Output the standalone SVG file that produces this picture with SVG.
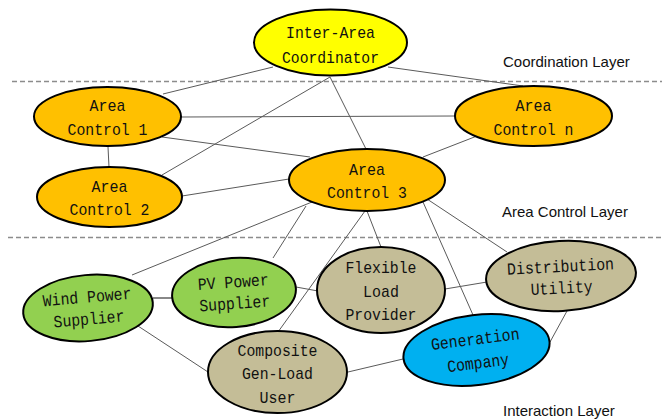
<svg xmlns="http://www.w3.org/2000/svg" width="662" height="419" viewBox="0 0 662 419">
<style>
.bg{fill:#fff}
.sep{stroke:#8c8c8c;stroke-width:1.3;stroke-dasharray:5 3;fill:none}
.lay{font-family:"Liberation Sans",Arial,sans-serif;font-size:15px;fill:#111}
.c line{stroke:#5a5a5a;stroke-width:1;fill:none}
.n ellipse{stroke:#000;stroke-width:2}
.n text{font-family:"Liberation Mono","DejaVu Sans Mono",monospace;font-size:17px;fill:#111;text-anchor:middle}
.yel{fill:#FFFF00}.org{fill:#FFC000}.grn{fill:#92D050}.tan{fill:#C4BD97}.blu{fill:#00B0F0}
</style>
<rect class="bg" width="662" height="419"/>
<line class="sep" x1="12" y1="81.5" x2="662" y2="81.5"/>
<line class="sep" x1="8" y1="237.5" x2="662" y2="237.5"/>
<text class="lay" x="503" y="67">Coordination Layer</text>
<text class="lay" x="502" y="217">Area Control  Layer</text>
<text class="lay" x="503" y="416">Interaction Layer</text>
<g id="connectors" class="c">
<line x1="273" y1="67" x2="163" y2="94"/>
<line x1="388" y1="67" x2="523" y2="86"/>
<line x1="330" y1="77" x2="162" y2="175"/>
<line x1="330" y1="77" x2="366" y2="149"/>
<line x1="181" y1="117" x2="455" y2="116"/>
<line x1="162" y1="137" x2="310" y2="157"/>
<line x1="108" y1="147" x2="109" y2="167"/>
<line x1="182" y1="196" x2="289" y2="179"/>
<line x1="423" y1="157" x2="477" y2="136"/>
<line x1="312" y1="202" x2="132" y2="275"/>
<line x1="306" y1="206" x2="273" y2="258"/>
<line x1="365" y1="211" x2="278" y2="332"/>
<line x1="367" y1="211" x2="381" y2="247"/>
<line x1="423" y1="202" x2="473" y2="315"/>
<line x1="427" y1="199" x2="507" y2="252"/>
<line x1="153" y1="298" x2="172" y2="298" style="stroke:#888;stroke-width:2"/>
<line x1="138" y1="326" x2="208" y2="372"/>
<line x1="296" y1="287" x2="318" y2="291"/>
<line x1="445" y1="289" x2="487" y2="282"/>
<line x1="348" y1="372" x2="403" y2="359"/>
<line x1="550" y1="342" x2="567" y2="311"/>
</g>
<g id="inter-area-coordinator" class="n">
<ellipse class="yel" cx="330.5" cy="42.5" rx="76.5" ry="33"/>
<text x="330.5" y="38" textLength="89" lengthAdjust="spacingAndGlyphs">Inter-Area</text>
<text x="330.5" y="63" textLength="97" lengthAdjust="spacingAndGlyphs">Coordinator</text>
</g>
<g id="area-control-1" class="n">
<ellipse class="org" cx="107.5" cy="116.5" rx="73.5" ry="29.5"/>
<text x="107.5" y="111" textLength="36" lengthAdjust="spacingAndGlyphs">Area</text>
<text x="107.5" y="135" textLength="80" lengthAdjust="spacingAndGlyphs">Control 1</text>
</g>
<g id="area-control-n" class="n">
<ellipse class="org" cx="533.5" cy="116" rx="78.5" ry="30"/>
<text x="533.5" y="111" textLength="36" lengthAdjust="spacingAndGlyphs">Area</text>
<text x="533.5" y="135" textLength="80" lengthAdjust="spacingAndGlyphs">Control n</text>
</g>
<g id="area-control-2" class="n">
<ellipse class="org" cx="109.5" cy="197" rx="72.5" ry="30"/>
<text x="109.5" y="192" textLength="36" lengthAdjust="spacingAndGlyphs">Area</text>
<text x="109.5" y="215" textLength="80" lengthAdjust="spacingAndGlyphs">Control 2</text>
</g>
<g id="area-control-3" class="n">
<ellipse class="org" cx="367" cy="180" rx="78" ry="31"/>
<text x="367" y="175" textLength="36" lengthAdjust="spacingAndGlyphs">Area</text>
<text x="367" y="198" textLength="80" lengthAdjust="spacingAndGlyphs">Control 3</text>
</g>
<g id="wind-power-supplier" class="n" transform="rotate(-5 88 308)">
<ellipse class="grn" cx="88" cy="308" rx="65" ry="33"/>
<text x="88" y="302.5" textLength="89" lengthAdjust="spacingAndGlyphs">Wind Power</text>
<text x="88" y="324.5" textLength="71" lengthAdjust="spacingAndGlyphs">Supplier</text>
</g>
<g id="pv-power-supplier" class="n" transform="rotate(-4 234 292.5)">
<ellipse class="grn" cx="234" cy="292.5" rx="62" ry="34.5"/>
<text x="234" y="287.5" textLength="71" lengthAdjust="spacingAndGlyphs">PV Power</text>
<text x="234" y="309" textLength="71" lengthAdjust="spacingAndGlyphs">Supplier</text>
</g>
<g id="flexible-load-provider" class="n">
<ellipse class="tan" cx="381" cy="290" rx="64" ry="43"/>
<text x="381" y="273" textLength="71" lengthAdjust="spacingAndGlyphs">Flexible</text>
<text x="381" y="297" textLength="36" lengthAdjust="spacingAndGlyphs">Load</text>
<text x="381" y="320" textLength="71" lengthAdjust="spacingAndGlyphs">Provider</text>
</g>
<g id="distribution-utility" class="n" transform="rotate(-3 561 276)">
<ellipse class="tan" cx="561" cy="276" rx="75" ry="35"/>
<text x="561" y="272" textLength="107" lengthAdjust="spacingAndGlyphs">Distribution</text>
<text x="561" y="293.5" textLength="62" lengthAdjust="spacingAndGlyphs">Utility</text>
</g>
<g id="composite-gen-load-user" class="n">
<ellipse class="tan" cx="277.5" cy="372" rx="69.5" ry="41"/>
<text x="277.5" y="356" textLength="80" lengthAdjust="spacingAndGlyphs">Composite</text>
<text x="277.5" y="379" textLength="71" lengthAdjust="spacingAndGlyphs">Gen-Load</text>
<text x="277.5" y="403" textLength="36" lengthAdjust="spacingAndGlyphs">User</text>
</g>
<g id="generation-company" class="n" transform="rotate(-7 476.5 350)">
<ellipse class="blu" cx="476.5" cy="350" rx="73.5" ry="35"/>
<text x="476.5" y="344.5" textLength="89" lengthAdjust="spacingAndGlyphs">Generation</text>
<text x="476.5" y="368.5" textLength="62" lengthAdjust="spacingAndGlyphs">Company</text>
</g>
</svg>
